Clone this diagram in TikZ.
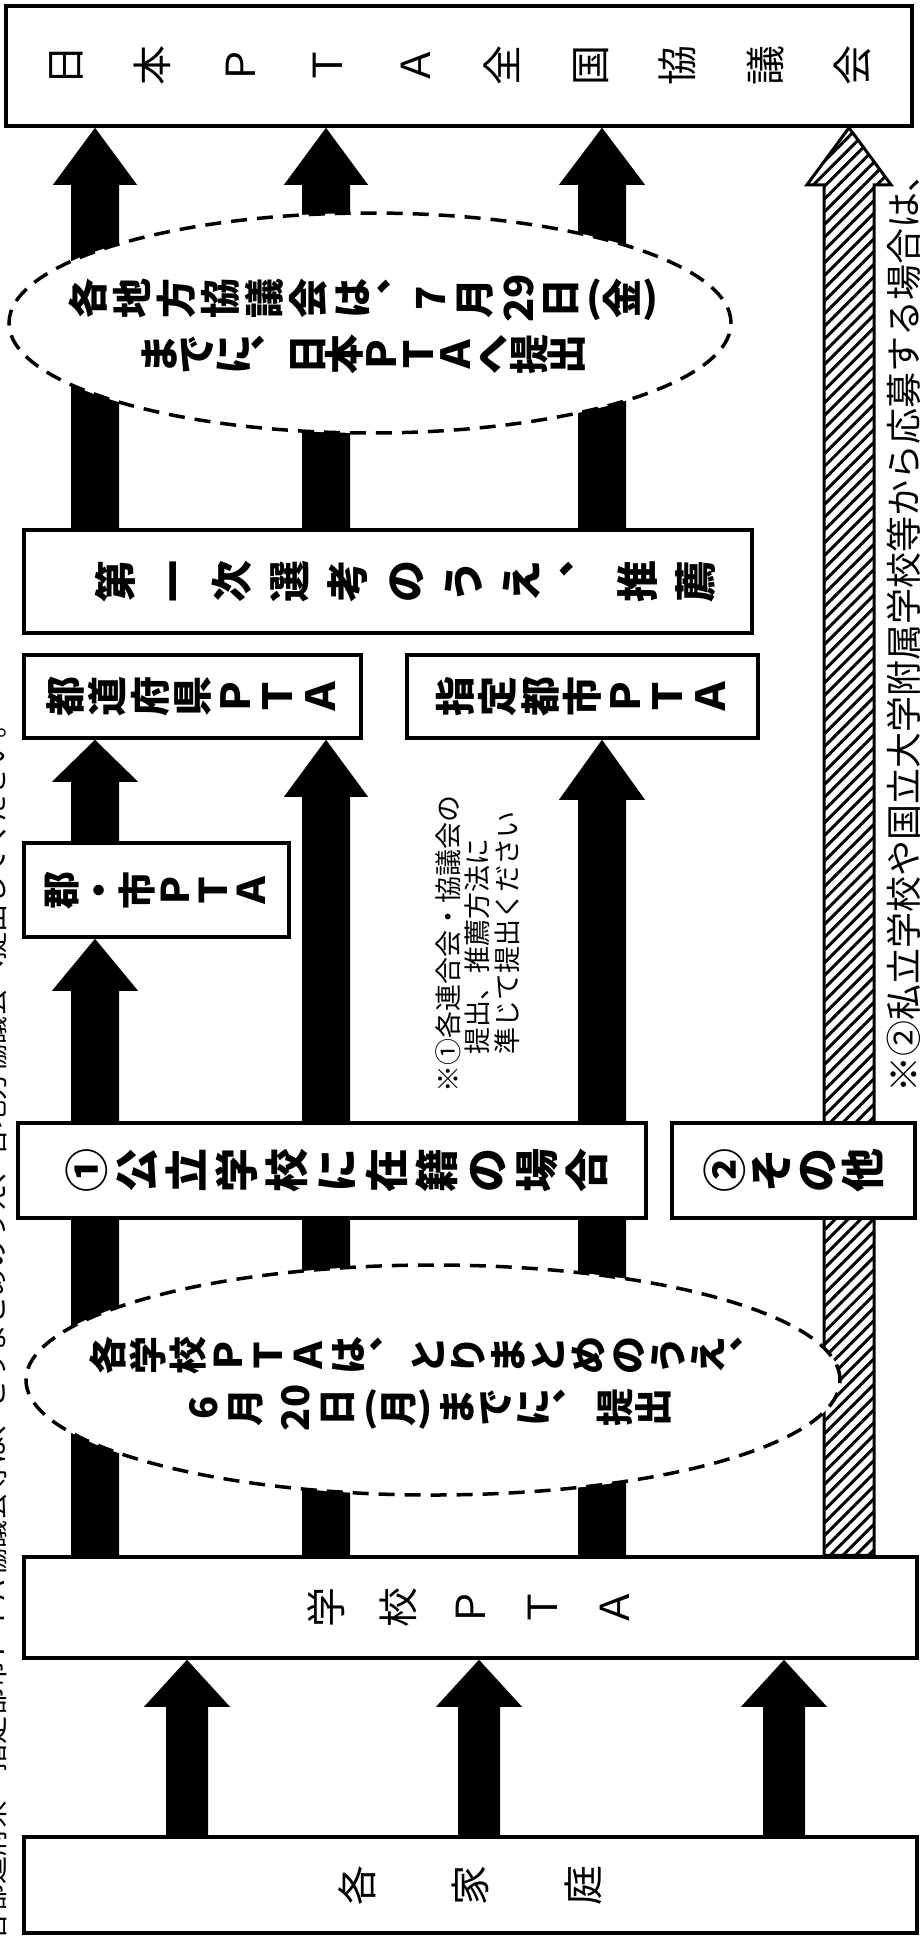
\documentclass[tikz,border=0pt]{standalone}
\usepackage{fontspec}
\setmainfont{Noto Sans CJK JP}
\usepackage{graphicx}
\usetikzlibrary{shapes.geometric,calc,patterns.meta}
\pgfdeclarelayer{bg}
\pgfsetlayers{bg,main}
% one glyph turned a quarter turn anticlockwise, in a 1em cell
\newlength\rgsep
\newsavebox\rgbox
\def\rgend{}
\newcommand\rg[1]{\sbox\rgbox{\rotatebox{90}{\rule[-0.12em]{0pt}{1em}#1}}\raisebox{\dimexpr(1em-\ht\rgbox)/2\relax}{\usebox\rgbox}}
\def\rgloop#1{\ifx\rgend#1\else\rg{#1}\kern\rgsep\expandafter\rgloop\fi}
\newcommand\rt[1]{\rgloop#1\rgend\unkern}
\newcommand\up[1]{\raisebox{0.15em}{#1}}
% block arrow from one node up to another
\newcommand\barrow[7][fill=black]{%
  \path[#1] let \p1=(#3.north), \p2=(#4.south) in
  ({#2pt-#5},\y1) -- ({#2pt-#5},{\y2-#7}) -- ({#2pt-#6},{\y2-#7}) -- (#2pt,\y2)
  -- ({#2pt+#6},{\y2-#7}) -- ({#2pt+#5},{\y2-#7}) -- ({#2pt+#5},\y1) -- cycle;}
\tikzset{
  box/.style={draw=black, line width=3.5pt, fill=white, rectangle, inner sep=0pt},
  oval/.style={ellipse, draw=black, line width=3.5pt, dash pattern=on 16pt off 10pt, fill=white, inner sep=0pt},
  otext/.style={inner sep=0pt, align=center},
  hatch/.style={draw=black, line width=3pt, pattern={Lines[angle=45,distance=9pt,line width=3pt]}},
  sidenote/.style={rotate=90, inner sep=0pt},
}
\begin{document}
\begin{tikzpicture}[x=1pt,y=-1pt]
\useasboundingbox (0,0) rectangle (920,1940);
\begin{pgfonlayer}{bg}
\fill[white] (0,0) rectangle (920,1940);
\end{pgfonlayer}

% boxes
\node[box, minimum width=906pt, minimum height=120pt, font=\fontsize{40}{40}\selectfont] (jp) at (459,66)
  {\setlength\rgsep{47.5pt}\rt{日本ＰＴＡ全国協議会}};
\node[box, minimum width=728pt, minimum height=103pt, font=\fontsize{42}{42}\selectfont\bfseries] (first) at (388,581.5)
  {\hspace*{36pt}\setlength\rgsep{16pt}\rt{第一次選考のうえ︑推薦}};
\node[box, minimum width=337pt, minimum height=83pt, font=\fontsize{40}{40}\selectfont\bfseries] (pref) at (192.5,696.5)
  {\setlength\rgsep{2.5pt}\rt{都道府県ＰＴＡ}};
\node[box, minimum width=351pt, minimum height=83pt, font=\fontsize{40}{40}\selectfont\bfseries] (city) at (582.5,696.5)
  {\setlength\rgsep{2.5pt}\rt{指定都市ＰＴＡ}};
\node[box, minimum width=265pt, minimum height=94pt, font=\fontsize{38}{38}\selectfont\bfseries] (gun) at (156.5,890)
  {\setlength\rgsep{0pt}\rt{郡・市ＰＴＡ}};
\node[box, minimum width=628pt, minimum height=95pt, font=\fontsize{44}{44}\selectfont\bfseries] (pub) at (332,1170.5)
  {\hspace*{10pt}\setlength\rgsep{6pt}\rt{①公立学校に在籍の場合}};
\node[box, minimum width=243pt, minimum height=95pt, font=\fontsize{44}{44}\selectfont\bfseries] (oth) at (793.5,1170.5)
  {\setlength\rgsep{2pt}\rt{②その他}};
\node[box, minimum width=893pt, minimum height=101pt, font=\fontsize{40}{40}\selectfont] (school) at (470.5,1607.5)
  {\setlength\rgsep{32pt}\rt{学校ＰＴＡ}};
\node[box, minimum width=893pt, minimum height=96pt, font=\fontsize{40}{40}\selectfont] (home) at (470.5,1885)
  {\setlength\rgsep{73pt}\rt{各家庭}};

% dashed ovals
\node[oval, minimum width=722pt, minimum height=220pt] (ell1) at (370,323) {};
\node[otext, font=\fontsize{40}{56}\selectfont\bfseries] (ell1t) at (363,324)
  {\setlength\rgsep{4pt}\rt{各地方協議会は︑}\hspace{-6pt}\rg{7}\hspace{4pt}\rg{月}\hspace{4pt}\rg{29}\hspace{2pt}\rg{日}\hspace{6pt}\up{(}\rt{金}\up{)}\\
   \setlength\rgsep{-3pt}\rt{までに︑日本ＰＴＡへ提出}};
\node[oval, minimum width=814pt, minimum height=230pt] (ell2) at (433,1380) {};
\node[otext, font=\fontsize{38}{52}\selectfont\bfseries] (ell2t) at (428,1384)
  {\setlength\rgsep{2pt}\rt{各学校ＰＴＡは︑とりまとめのうえ︑}\\
   \rg{6}\hspace{4pt}\rg{月}\hspace{12pt}\rg{20}\hspace{4pt}\rg{日}\hspace{8pt}\up{(}\rt{月}\up{)}\hspace{6pt}\rt{までに︑}\hspace{6pt}\rt{提出}};

% notes
\node[sidenote, anchor=north west, align=left, font=\fontsize{27}{29.5}\selectfont] (note1) at (435,1093)
  {※①各連合会・協議会の\\
   \hspace*{38pt}提出、推薦方法に\\
   \hspace*{38pt}準じて提出ください};
\node[sidenote, anchor=west, font=\fontsize{36}{36}\selectfont] (note2) at (904,1093)
  {※②私立学校や国立大学附属学校等から応募する場合は、};
\node[sidenote, anchor=east, font=\fontsize{28}{28}\selectfont] (lefttxt) at (-6,710)
  {各都道府県・指定都市ＰＴＡ協議会等は、とりまとめのうえ、各地方協議会へ提出してください。};

% block arrows, behind the boxes
\begin{pgfonlayer}{bg}
\barrow{95}{school}{gun}{24pt}{43pt}{52pt}
\barrow{95}{gun}{pref}{24pt}{43pt}{42pt}
\barrow{95}{first}{jp}{24pt}{42pt}{57pt}
\barrow{326}{school}{pref}{24pt}{42pt}{57pt}
\barrow{326}{first}{jp}{24pt}{42pt}{57pt}
\barrow{602}{school}{city}{24pt}{43pt}{60pt}
\barrow{602}{first}{jp}{24pt}{43pt}{57pt}
\barrow[hatch]{849}{school}{jp}{25pt}{42pt}{57pt}
\barrow{187}{home}{school}{21pt}{43pt}{47pt}
\barrow{479}{home}{school}{21pt}{43pt}{47pt}
\barrow{784}{home}{school}{21pt}{43pt}{47pt}
\end{pgfonlayer}
\end{tikzpicture}
\end{document}
